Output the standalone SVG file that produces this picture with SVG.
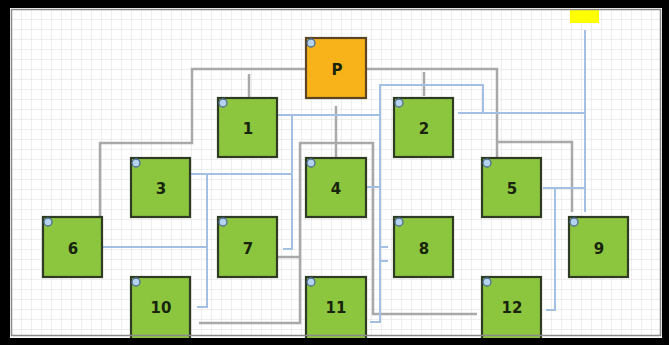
<svg xmlns="http://www.w3.org/2000/svg" width="669" height="345" viewBox="0 0 669 345">
<defs>
<pattern id="grid" x="12" y="10" width="10" height="10" patternUnits="userSpaceOnUse">
<path d="M10,0 V10 M0,10 H10" fill="none" stroke="#dcdcdc" stroke-width="1"/>
</pattern>
<style>
.g{fill:none;stroke:#a9a9a9;stroke-width:2.5}
.b{fill:none;stroke:#a3c0e2;stroke-width:2}
.n rect{fill:#8cc63f;stroke:#2f3b22;stroke-width:2.2}
.n.p rect{fill:#f9b31a;stroke:#5b4522}
.n circle{fill:#b5d2ef;stroke:#4d6d90;stroke-width:1.3}
.n text{font-family:"DejaVu Sans",sans-serif;font-weight:bold;font-size:15px;fill:#18240c;text-anchor:middle;dominant-baseline:central}
</style>
</defs>
<rect x="0" y="0" width="669" height="345" fill="#000"/>
<rect x="10" y="8" width="652" height="330" fill="#fff"/>
<rect x="12" y="10" width="648" height="325" fill="url(#grid)"/>
<rect x="570" y="10" width="29" height="13" fill="#ffff00"/>
<g id="connectors">
<path class="g" d="M306,69 H192 V143 H100 V216"/>
<path class="g" d="M249,74 V98"/>
<path class="g" d="M366,69 H497 V157"/>
<path class="g" d="M497,142 H572 V212"/>
<path class="g" d="M424,72 V96"/>
<path class="g" d="M336,106 V158"/>
<path class="g" d="M199,323 H300 V143 H373 V314 H477"/>
<path class="g" d="M277,257 H300"/>
<path class="b" d="M277,115 H379"/>
<path class="b" d="M292,115 V249 H283"/>
<path class="b" d="M370,322 H380 V85 H483 V113"/>
<path class="b" d="M366,187 H380"/>
<path class="b" d="M380,247 H388 M380,261 H388"/>
<path class="b" d="M190,174 H292"/>
<path class="b" d="M207,174 V307 H197"/>
<path class="b" d="M103,247 H207"/>
<path class="b" d="M458,113 H585"/>
<path class="b" d="M585,30 V212"/>
<path class="b" d="M543,188 H585"/>
<path class="b" d="M555,188 V310 H546"/>
</g>
<g id="nodeP" class="n p"><rect x="306" y="38" width="60" height="60"/><circle cx="311" cy="43" r="4"/><text x="337" y="70">P</text></g>
<g id="node1" class="n"><rect x="218" y="98" width="59" height="59"/><circle cx="223" cy="103" r="4"/><text x="248" y="129">1</text></g>
<g id="node2" class="n"><rect x="394" y="98" width="59" height="59"/><circle cx="399" cy="103" r="4"/><text x="424" y="129">2</text></g>
<g id="node3" class="n"><rect x="131" y="158" width="59" height="59"/><circle cx="136" cy="163" r="4"/><text x="161" y="189">3</text></g>
<g id="node4" class="n"><rect x="306" y="158" width="60" height="59"/><circle cx="311" cy="163" r="4"/><text x="336" y="189">4</text></g>
<g id="node5" class="n"><rect x="482" y="158" width="59" height="59"/><circle cx="487" cy="163" r="4"/><text x="512" y="189">5</text></g>
<g id="node6" class="n"><rect x="43" y="217" width="59" height="60"/><circle cx="48" cy="222" r="4"/><text x="73" y="249">6</text></g>
<g id="node7" class="n"><rect x="218" y="217" width="59" height="60"/><circle cx="223" cy="222" r="4"/><text x="248" y="249">7</text></g>
<g id="node8" class="n"><rect x="394" y="217" width="59" height="60"/><circle cx="399" cy="222" r="4"/><text x="424" y="249">8</text></g>
<g id="node9" class="n"><rect x="569" y="217" width="59" height="60"/><circle cx="574" cy="222" r="4"/><text x="599" y="249">9</text></g>
<g id="node10" class="n"><rect x="131" y="277" width="59" height="64"/><circle cx="136" cy="282" r="4"/><text x="161" y="308">10</text></g>
<g id="node11" class="n"><rect x="306" y="277" width="60" height="64"/><circle cx="311" cy="282" r="4"/><text x="336" y="308">11</text></g>
<g id="node12" class="n"><rect x="482" y="277" width="59" height="64"/><circle cx="487" cy="282" r="4"/><text x="512" y="308">12</text></g>
<path d="M0,0 H669 V345 H0 Z M10,8 V338 H662 V8 Z" fill="#000" fill-rule="evenodd"/>
<rect x="11.5" y="9.5" width="649" height="326" fill="none" stroke="#8a8a8a" stroke-width="1.5"/>
</svg>
